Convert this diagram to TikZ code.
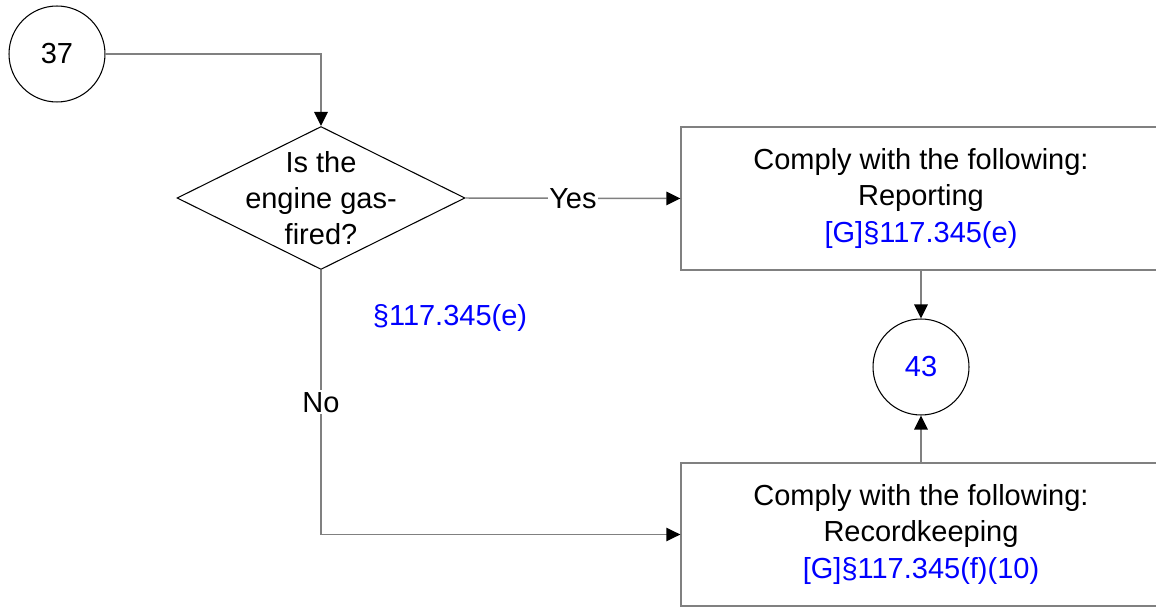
\documentclass[tikz,border=0pt]{standalone}
\usepackage{fontspec}
\setmainfont{Liberation Sans}
\usetikzlibrary{shapes.geometric,arrows.meta}

\begin{document}
\begin{tikzpicture}[x=0.02cm,y=-0.02cm,
        font=\fontsize{16.5}{20.5}\selectfont,
        conn/.style={draw=black!50,line width=0.85pt,-{Triangle[length=0.28cm,width=0.27cm,color=black]}},
        connector/.style={circle,draw,line width=0.6pt,minimum size=1.92cm,inner sep=0pt},
        decision/.style={diamond,draw,line width=0.6pt,minimum width=5.76cm,minimum height=2.86cm,inner sep=0pt},
        action/.style={rectangle,draw=black!50,line width=0.85pt,minimum width=9.6cm,minimum height=2.86cm,align=center},
        lbl/.style={fill=white,inner sep=1pt}]
        \useasboundingbox (0,0) rectangle (1156,607);

        \node[connector] (c37) at (57,54) {37};
        \node[decision] (q) at (321,198) {};
        \node[align=center] (qtext) at (q) {Is the\\engine gas-\\fired?};

        \node[action] (rep) at (921,198.5) {Comply with the following:\\Reporting\\\textcolor{blue}{[G]§117.345(e)}};
        \node[connector,text=blue] (c43) at (921,367) {43};
        \node[action] (rec) at (921,534.5) {Comply with the following:\\Recordkeeping\\\textcolor{blue}{[G]§117.345(f)(10)}};

        \node[text=blue] (ref) at (450,318) {§117.345(e)};

        \draw[conn] (c37.east) -| (q.north);
        \draw[conn] (q.east) -- node[lbl] {Yes} (rep.west);
        \draw[conn] (q.south) |- node[lbl,pos=0.25] {No} (rec.west);
        \draw[conn] (rep.south) -- (c43.north);
        \draw[conn] (rec.north) -- (c43.south);
    \end{tikzpicture}
\end{document}
